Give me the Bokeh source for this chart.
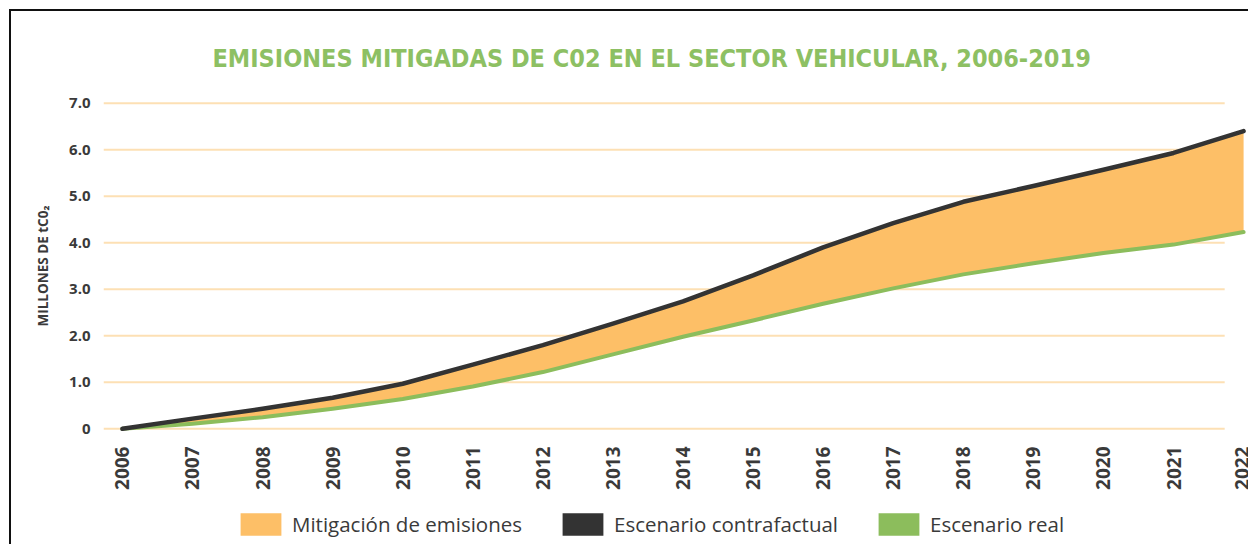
import math
from bokeh.plotting import figure
from bokeh.layouts import column, row
from bokeh.models import (Range1d, FixedTicker, NumeralTickFormatter, Legend, LegendItem,
                          ColumnDataSource, Title, Div, Spacer)
from bokeh.embed import file_html
from bokeh.resources import INLINE

# ---- data ----
years = [2006, 2007, 2008, 2009, 2010, 2011, 2012, 2013, 2014, 2015, 2016, 2017, 2018, 2019, 2020, 2021, 2022]
contrafactual = [0.0, 0.22, 0.43, 0.67, 0.97, 1.38, 1.80, 2.26, 2.74, 3.30, 3.90, 4.42, 4.88, 5.22, 5.57, 5.93, 6.40]
real = [0.0, 0.11, 0.25, 0.43, 0.64, 0.91, 1.22, 1.60, 1.98, 2.33, 2.69, 3.02, 3.32, 3.56, 3.78, 3.96, 4.23]
y_ticks = [0, 1, 2, 3, 4, 5, 6, 7]
labels = ["Mitigación de emisiones", "Escenario contrafactual", "Escenario real"]
title_text = "EMISIONES MITIGADAS DE C02 EN EL SECTOR VEHICULAR, 2006-2019"
y_label = "MILLONES DE tC0\u2082"

ORANGE = "#fdbf67"
BLACK = "#333333"
GREEN = "#8cbd5c"
GRID = "#fde0b4"
TXT = "#3a3a3a"

x_start = years[0] - 0.27
x_end = years[-1] + 0.07
grid_end = years[-1] - 0.27
nan = float("nan")

p = figure(width=1237, height=481, output_backend="svg", toolbar_location=None,
           x_range=Range1d(x_start, x_end), y_range=Range1d(-0.1, 7.1),
           min_border_left=92, min_border_right=0, min_border_top=87, min_border_bottom=56)

p.outline_line_color = None
p.xgrid.visible = False
p.ygrid.visible = False

# horizontal grid lines (ending before the last year, as in the original)
p.segment(x0=[x_start] * len(y_ticks), x1=[grid_end] * len(y_ticks), y0=y_ticks, y1=y_ticks,
          line_color=GRID, line_width=2)

src = ColumnDataSource(dict(x=years, top=contrafactual, bot=real))
p.varea(x="x", y1="bot", y2="top", source=src, fill_color=ORANGE)
p.line(x="x", y="bot", source=src, line_color=GREEN, line_width=4, line_join="round", line_cap="round")
p.line(x="x", y="top", source=src, line_color=BLACK, line_width=4.5, line_join="round", line_cap="round")

# axes
p.xaxis.ticker = FixedTicker(ticks=years)
p.xaxis.major_label_orientation = math.pi / 2
p.xaxis.major_label_text_font = "Open Sans"
p.xaxis.major_label_text_font_style = "bold"
p.xaxis.major_label_text_font_size = "19px"
p.xaxis.major_label_text_color = TXT
p.xaxis.major_label_standoff = 7
p.xaxis.axis_line_color = None
p.xaxis.major_tick_line_color = None
p.xaxis.minor_tick_line_color = None

p.yaxis.ticker = FixedTicker(ticks=y_ticks)
p.yaxis.formatter = NumeralTickFormatter(format="0.0")
p.yaxis.major_label_overrides = {0: "0"}
p.yaxis.major_label_text_font = "Open Sans"
p.yaxis.major_label_text_font_style = "bold"
p.yaxis.major_label_text_font_size = "15px"
p.yaxis.major_label_text_color = TXT
p.yaxis.major_label_standoff = 7
p.yaxis.axis_line_color = None
p.yaxis.major_tick_line_color = None
p.yaxis.minor_tick_line_color = None
p.yaxis.axis_label = y_label
p.yaxis.axis_label_text_font = "Open Sans"
p.yaxis.axis_label_text_font_style = "bold"
p.yaxis.axis_label_text_font_size = "13.5px"
p.yaxis.axis_label_text_color = TXT
p.yaxis.axis_label_standoff = 14

# title
t = Title(text=title_text, align="left", offset=109, standoff=52,
          text_font="'DejaVu Sans Condensed', Roboto, sans-serif", text_font_style="bold",
          text_font_size="25px", text_color="#8dc063")
p.add_layout(t, "above")

# ---- legend strip ----
lg = figure(width=1237, height=52, output_backend="svg", toolbar_location=None,
            x_range=Range1d(0, 1), y_range=Range1d(0, 1), min_border=0)
lg.axis.visible = False
lg.grid.visible = False
lg.outline_line_color = None
r0 = lg.quad(left=[nan], right=[nan], top=[nan], bottom=[nan], fill_color=ORANGE, line_color=None)
r1 = lg.quad(left=[nan], right=[nan], top=[nan], bottom=[nan], fill_color=BLACK, line_color=None)
r2 = lg.quad(left=[nan], right=[nan], top=[nan], bottom=[nan], fill_color=GREEN, line_color=None)
legend = Legend(items=[LegendItem(label=labels[0], renderers=[r0]),
                       LegendItem(label=labels[1], renderers=[r1]),
                       LegendItem(label=labels[2], renderers=[r2])],
                orientation="horizontal", location=(132, 6),
                glyph_width=51, glyph_height=28, label_standoff=6, spacing=35,
                label_text_font="Open Sans", label_text_font_size="20.5px", label_text_color=TXT,
                border_line_color=None, background_fill_alpha=0, padding=0, margin=0)
lg.add_layout(legend, "center")

# frame lines of the original picture (left and top edges)
top_bar = Div(width=1239, height=2, margin=0, styles={"background-color": "#111111"})
left_bar = Div(width=2, height=533, margin=0, styles={"background-color": "#111111"})

layout = column(Spacer(height=9, width=10, margin=0),
                row(Spacer(width=9, height=10, margin=0),
                    column(top_bar, row(left_bar, column(p, lg, spacing=0), spacing=0), spacing=0),
                    spacing=0),
                spacing=0)
open("out.html", "w").write(file_html(layout, INLINE))
